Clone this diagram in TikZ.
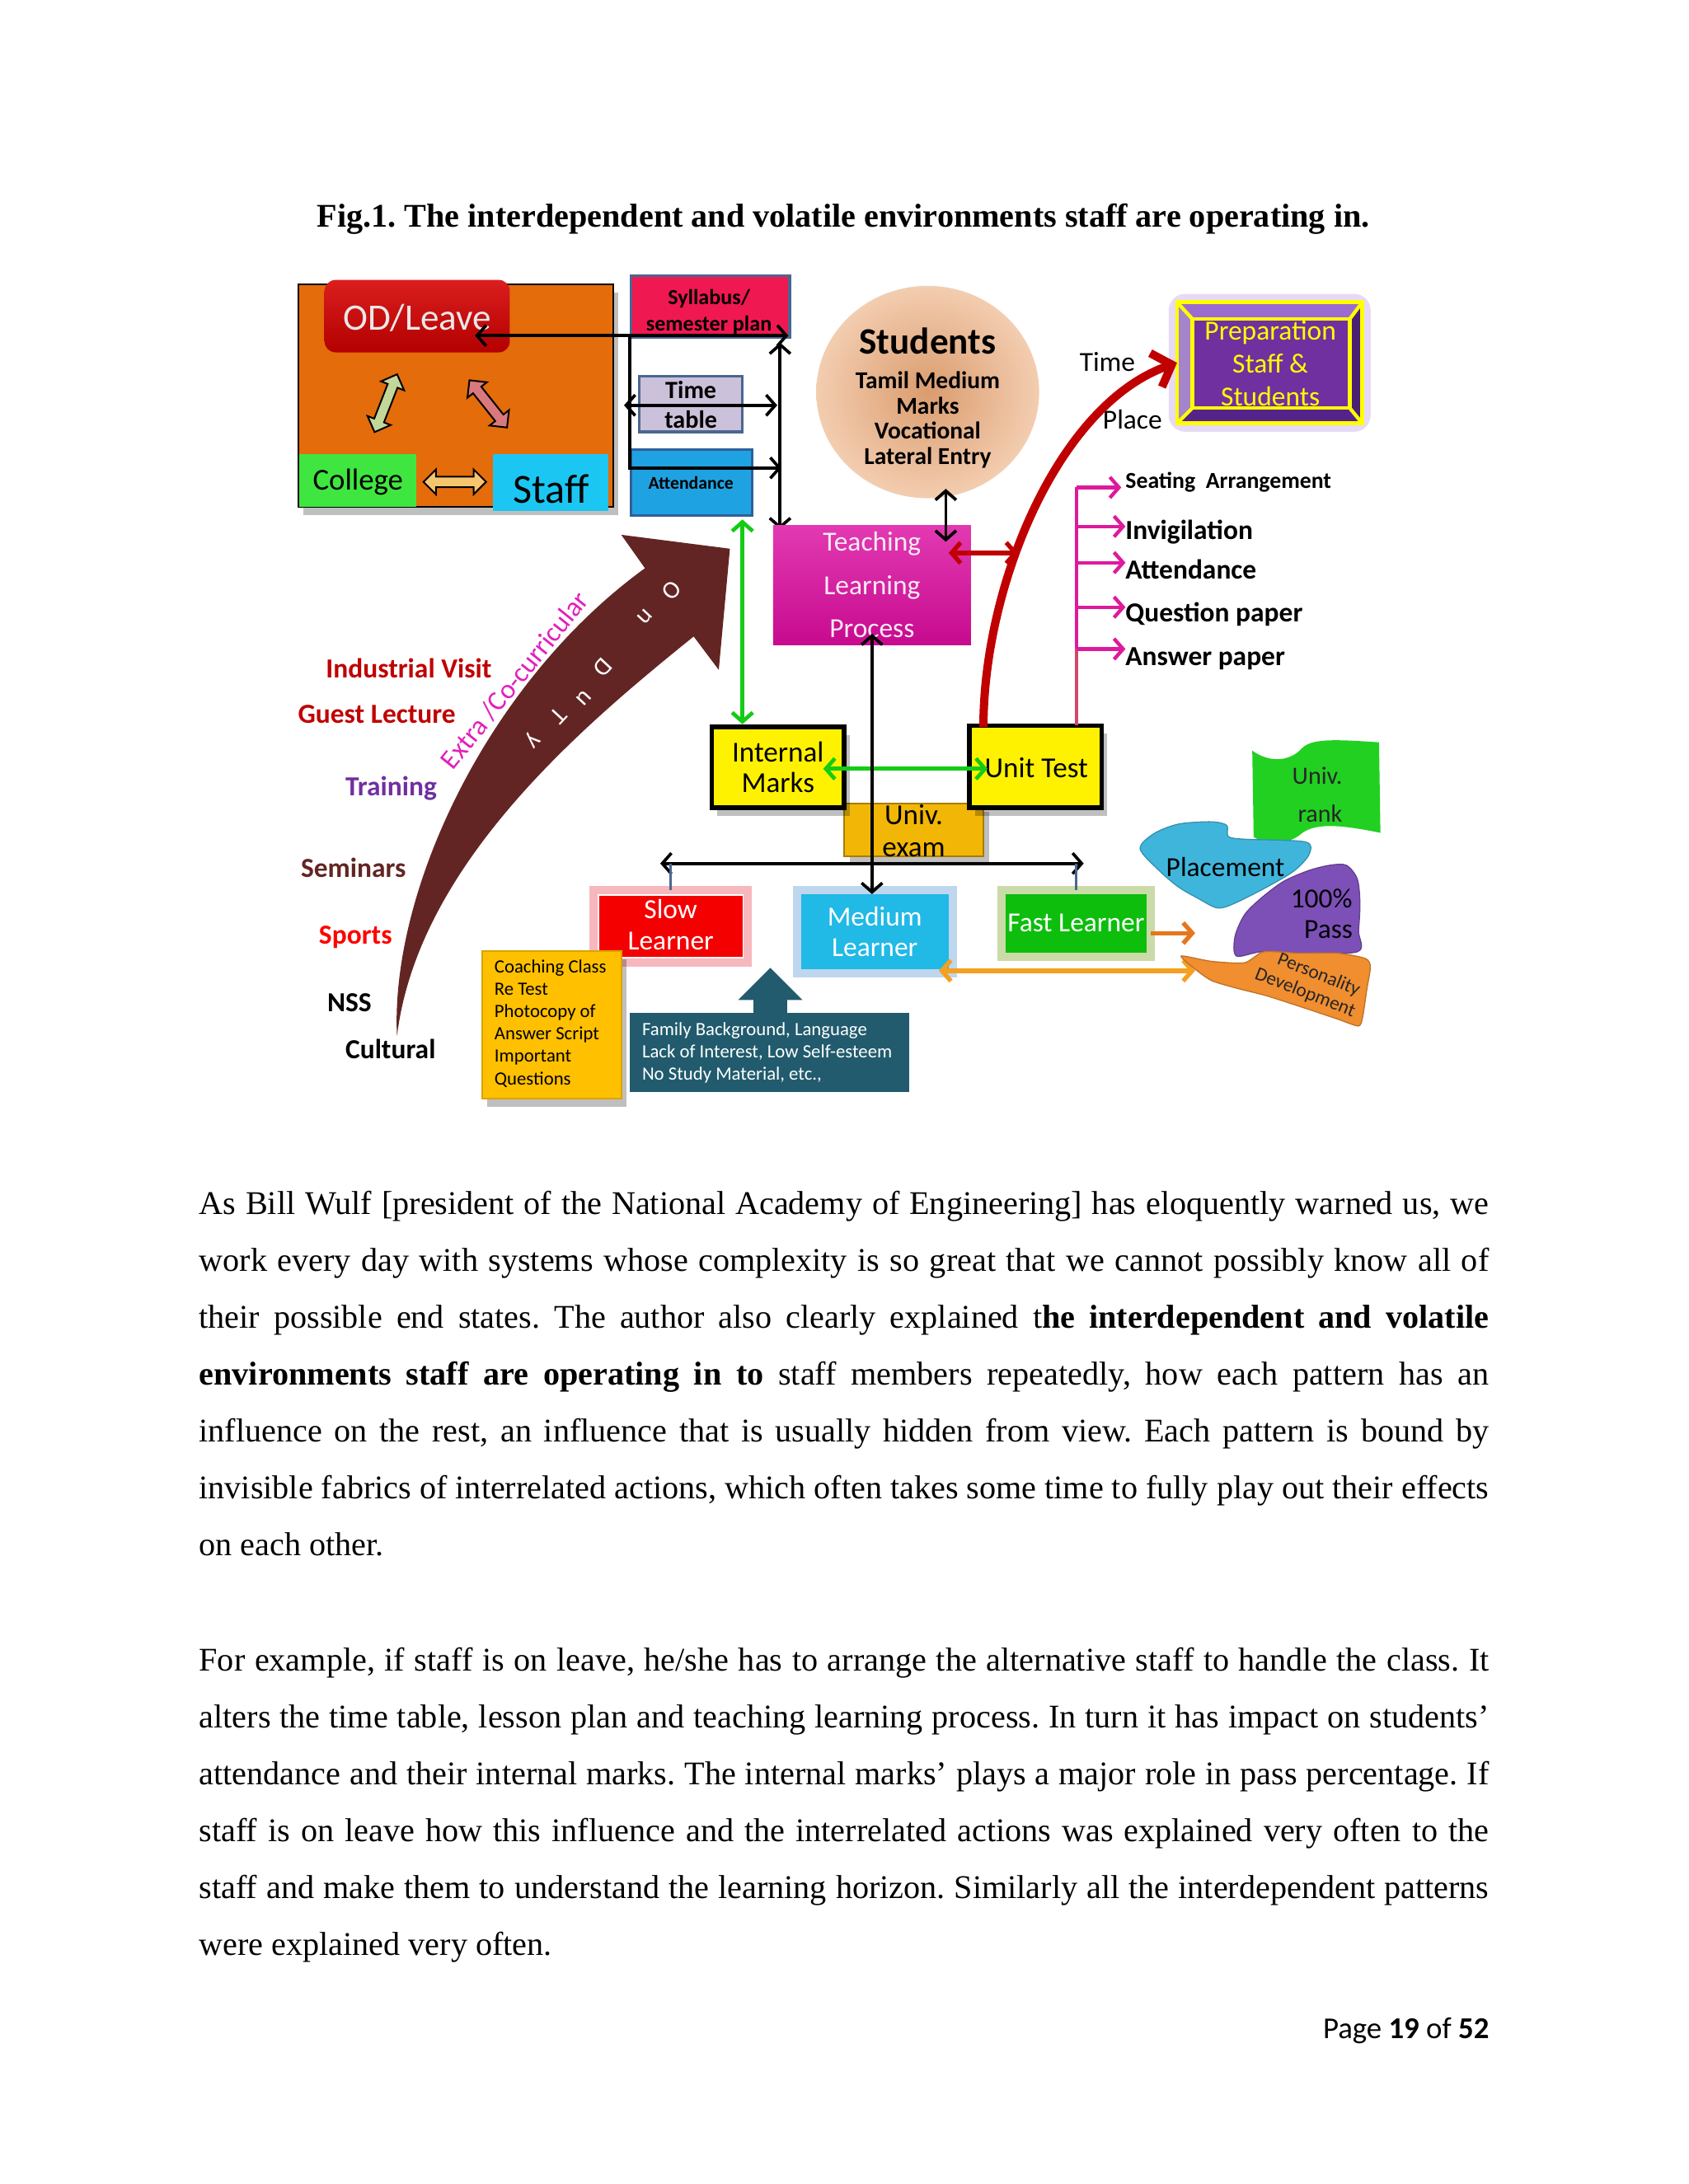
\documentclass[tikz,border=0pt]{standalone}
\usepackage{fontspec}
\setmainfont{Liberation Serif}
\newfontfamily\cfont{Carlito}
\usetikzlibrary{arrows.meta,shapes.arrows,shapes.geometric,shadows,fit}
\newcommand{\cfs}[2]{\cfont\fontsize{#1}{#2}\selectfont}
\newcommand{\cfb}[2]{\cfont\bfseries\fontsize{#1}{#2}\selectfont}
\newcommand{\bodyfont}{\fontsize{12}{14}\selectfont}
\newcommand{\jline}[1]{\makebox[467.6pt][s]{#1}}
\frenchspacing
\definecolor{orangebg}{HTML}{E46C0A}
\definecolor{odtop}{HTML}{DB1E1E}
\definecolor{odbot}{HTML}{B30000}
\definecolor{odtext}{HTML}{E8E8E8}
\definecolor{colgreen}{HTML}{3FE63F}
\definecolor{staffcyan}{HTML}{1CC6F2}
\definecolor{arrgreen}{HTML}{C4D79B}
\definecolor{arrpink}{HTML}{D9797E}
\definecolor{arryellow}{HTML}{F5C66E}
\definecolor{sylpink}{HTML}{F01850}
\definecolor{boxborder}{HTML}{4A6690}
\definecolor{lav}{HTML}{CCC1DA}
\definecolor{attblue}{HTML}{1FA2E1}
\definecolor{attborder}{HTML}{2F5F9A}
\definecolor{stuin}{HTML}{DA9C6E}
\definecolor{stuout}{HTML}{F3CDB0}
\definecolor{tlptop}{HTML}{E23AB2}
\definecolor{tlpbot}{HTML}{C70A8F}
\definecolor{tlptext}{HTML}{F8EAF4}
\definecolor{redc}{HTML}{C00000}
\definecolor{glowpurple}{HTML}{E6DAF6}
\definecolor{bevtop}{HTML}{9B6BCF}
\definecolor{bevleft}{HTML}{A584CC}
\definecolor{bevright}{HTML}{4A2173}
\definecolor{bevbot}{HTML}{55248A}
\definecolor{prepmid}{HTML}{7030A0}
\definecolor{yel}{HTML}{FFFF00}
\definecolor{mag}{HTML}{DE1A9C}
\definecolor{magred}{HTML}{D2486A}
\definecolor{arrowgreen}{HTML}{14CC14}
\definecolor{univexam}{HTML}{F2B706}
\definecolor{univborder}{HTML}{A87C00}
\definecolor{slowred}{HTML}{F50000}
\definecolor{slowglow}{HTML}{F6B8BC}
\definecolor{medcyan}{HTML}{21B9E6}
\definecolor{medglow}{HTML}{BED6EE}
\definecolor{fastgreen}{HTML}{0DBE0D}
\definecolor{fastglow}{HTML}{CADBA8}
\definecolor{orangeA}{HTML}{E5761E}
\definecolor{orangeB}{HTML}{F4A020}
\definecolor{gold}{HTML}{FFC000}
\definecolor{golddark}{HTML}{D9A300}
\definecolor{tealbox}{HTML}{215B6D}
\definecolor{brownA}{HTML}{632523}
\definecolor{extramag}{HTML}{E21FBD}
\definecolor{indred}{HTML}{C00000}
\definecolor{trainpurple}{HTML}{7030A0}
\definecolor{sportsred}{HTML}{FF0000}
\definecolor{flaggreen}{HTML}{22D022}
\definecolor{placeblue}{HTML}{40B5DC}
\definecolor{passpurple}{HTML}{7D50B7}
\definecolor{persorange}{HTML}{F08E30}
\tikzset{
  chev/.tip={Straight Barb[length=3.3pt,width=7.5pt]},
  bigchev/.tip={Straight Barb[length=6pt,width=13pt]},
  plain/.style={inner sep=0pt, outer sep=0pt},
  fitbox/.style={inner sep=0pt, outer sep=0pt},
  blkline/.style={line width=1.1pt, draw=black},
  grnline/.style={line width=1.4pt, draw=arrowgreen},
  magline/.style={line width=1.3pt, draw=mag},
  fatarrow/.style={double arrow, draw=black, line width=0.6pt, inner sep=1.6pt, double arrow head extend=2.6pt},
  softshadow/.style={drop shadow={shadow xshift=2pt, shadow yshift=-3pt, opacity=0.25, fill=black}},
  sidelabel/.style={plain, anchor=west, font=\cfb{10}{12}},
  examlabel/.style={plain, anchor=west, font=\cfb{10}{12}},
  bodytext/.style={plain, anchor=base west, font=\bodyfont},
  learnertxt/.style={plain, align=center, text=white, font=\cfs{10}{11.1}},
  glowframe/.style={fitbox, fill=white, line width=3pt},
  duty/.style={plain, text=white, font=\cfs{9}{10}, rotate=-133},
}
\begin{document}
\begin{tikzpicture}[x=0.505pt,y=-0.505pt]
\fill[white] (0,0) rectangle (1212,1568.2);
\useasboundingbox (0,0) rectangle (1212,1568.2);

% ---------- title
\node[plain, anchor=base, font=\bfseries\bodyfont] (title) at (605.5,163)
  {Fig.1. The interdependent and volatile environments staff are operating in.};

% ---------- environment box
\node[fitbox, fill=orangebg, draw=black, line width=0.6pt, softshadow, fit={(214,204)(440,364)}] (env) {};
\node[fitbox, rounded corners=4pt, top color=odtop, bottom color=odbot, fit={(233,201)(366,253)}] (od) {};
\node[plain, font=\cfs{13.5}{16}, text=odtext] (odtxt) at (299.5,228) {OD/Leave};
\node[fitbox, fill=colgreen, fit={(215,326)(299,364)}] (college) {};
\node[plain, anchor=base, font=\cfs{11}{13}] (collegetxt) at (257,352) {College};
\node[fitbox, fill=staffcyan, fit={(354,326)(437,367)}] (staff) {};
\node[plain, anchor=base, font=\cfs{15}{18}] (stafftxt) at (395.5,361) {Staff};
\node[fatarrow, fill=arrgreen, minimum height=22.5pt, rotate=68.7] (fa1) at (277,289.5) {};
\node[fatarrow, fill=arrpink, minimum height=21.9pt, rotate=-51.5] (fa2) at (350.5,290) {};
\node[fatarrow, fill=arryellow, minimum height=22.7pt] (fa3) at (326.5,346) {};

% ---------- syllabus / time table / attendance
\node[fitbox, fill=sylpink, draw=boxborder, line width=1pt, fit={(453,198)(567,242)}] (syl) {};
\node[plain, align=center, font=\cfb{7.8}{9.6}] (syltxt) at (509,224) {Syllabus/\\semester plan};
\node[fitbox, fill=lav, draw=boxborder, line width=1pt, fit={(459,270)(533,310)}] (tt) {};
\node[plain, align=center, font=\cfb{9}{10.6}] (tttxt) at (496,290.5) {Time\\table};
\node[fitbox, fill=attblue, draw=attborder, line width=1pt, fit={(453,323)(540,370)}] (att) {};
\node[plain, font=\cfb{6.5}{8}] (atttxt) at (496,347) {Attendance};

% black connectors of the left column
\coordinate (odR) at (341,241);
\coordinate (sylR) at (566,241);
\coordinate (colTop) at (452,241);
\coordinate (colBot) at (452,336);
\coordinate (attR) at (561,336);
\coordinate (ttL) at (448,291);
\coordinate (ttR) at (558,291);
\coordinate (vTop) at (560,246);
\coordinate (tlpTopL) at (560,380);
\draw[blkline, chev-chev] (odR) -- (sylR);
\draw[blkline, -chev] (colTop) -- (colBot) -- (attR);
\draw[blkline, chev-chev] (ttL) -- (ttR);
\draw[blkline, chev-chev] (vTop) -- (tlpTopL);

% ---------- students
\node[ellipse, inner color=stuin, outer color=stuout, minimum width=80.8pt, minimum height=77pt] (stu) at (666,281.5) {};
\node[plain, font=\cfb{13.5}{16}] (stutitle) at (666,245) {Students};
\node[plain, align=center, font=\cfb{8.8}{9.25}] (stulines) at (666,301.5) {Tamil Medium\\Marks\\Vocational\\Lateral Entry};

% ---------- teaching learning process
\node[fitbox, top color=tlptop, bottom color=tlpbot, fit={(555,377)(697,463)}] (tlp) {};
\node[plain, align=center, font=\cfs{10}{15.7}, text=tlptext] (tlptxt) at (626,420) {Teaching\\Learning\\Process};
\coordinate (stuBot) at (679,351);
\coordinate (tlpIn) at (679,389);
\draw[blkline, chev-chev] (stuBot) -- (tlpIn);

% ---------- preparation
\node[fitbox, fill=glowpurple, rounded corners=6pt, fit={(839,211)(984,310)}] (prepglow) {};
\fill[bevtop] (845,217) -- (978,217) -- (969,229) -- (856,229) -- cycle;
\fill[bevbot] (845,304) -- (978,304) -- (969,293) -- (856,293) -- cycle;
\fill[bevleft] (845,217) -- (856,229) -- (856,293) -- (845,304) -- cycle;
\fill[bevright] (978,217) -- (969,229) -- (969,293) -- (978,304) -- cycle;
\node[fitbox, fill=prepmid, draw=yel, line width=1.3pt, fit={(856,229)(969,293)}] (prepin) {};
\node[fitbox, draw=yel, line width=1.4pt, fit={(845,217)(978,304)}] (prep) {};
\draw[yel, line width=1.3pt] (prep.north west) -- (prepin.north west)
  (prep.north east) -- (prepin.north east) (prep.south west) -- (prepin.south west)
  (prep.south east) -- (prepin.south east);
\node[plain, align=center, font=\cfs{10}{12.1}, text=yel] (preptxt) at (912,261) {Preparation\\Staff \&\\Students};
\node[plain, font=\cfs{10}{12}] (timelbl) at (795,260) {Time};
\node[plain, font=\cfs{10}{12}] (placelbl) at (813,301) {Place};

% ---------- exam list
\node[plain, anchor=west, font=\cfb{8.3}{10}] (seat) at (808,346) {Seating\ \ Arrangement};
\node[examlabel] (invig) at (808,382) {Invigilation};
\node[examlabel] (attend) at (808,409) {Attendance};
\node[examlabel] (qp) at (808,441) {Question paper};
\node[examlabel] (ap) at (808,473) {Answer paper};

% ---------- univ exam, internal marks, unit test
\node[fitbox, fill=univexam, draw=univborder, line width=0.6pt, softshadow, fit={(606,577)(706,615)}] (ue) {};
\node[plain, align=center, font=\cfs{10.5}{11.6}] (uetxt) at (656,596.5) {Univ.\\exam};
\node[fitbox, fill=yellow, draw=black, line width=1.6pt, softshadow, fit={(511,522)(606,580)}] (im) {};
\node[plain, align=center, font=\cfs{10.5}{11.1}] (imtxt) at (558.5,551) {Internal\\Marks};
\node[fitbox, fill=yellow, draw=black, line width=1.6pt, softshadow, fit={(696,521)(791,580)}] (ut) {};
\node[plain, font=\cfs{10.5}{12}] (uttxt) at (744,551) {Unit Test};

\coordinate (b1) at (773,350);
\coordinate (b2) at (773,378);
\coordinate (b3) at (773,404);
\coordinate (b4) at (773,436);
\coordinate (b5) at (773,466);
\draw[magline] (b1) -- (b5);
\draw[line width=1.3pt, magred] (b5) -- (ut.north -| b5);
\draw[magline, -chev] (b1) -- ++(32,0);
\draw[magline, -chev] (b2) -- (b2 -| invig.west);
\draw[magline, -chev] (b3) -- (b3 -| attend.west);
\draw[magline, -chev] (b4) -- (b4 -| qp.west);
\draw[magline, -chev] (b5) -- (b5 -| ap.west);

% red curve and red link
\coordinate (utTop) at (706,522);
\draw[line width=3pt, redc, -bigchev] (utTop) .. controls (706,420) and (760,290) .. (prep.west);
\coordinate (tlpR) at (681,397);
\coordinate (curveL) at (731,397);
\draw[line width=1.6pt, redc, chev-chev] (tlpR) -- (curveL);

% green links
\coordinate (g1) at (533,373);
\coordinate (g2) at (533,520);
\coordinate (g3) at (591,552);
\coordinate (g4) at (709,552);
\draw[grnline, chev-chev] (g1) -- (g2);
\draw[grnline, chev-chev] (g3) -- (g4);

% ---------- learners
\node[glowframe, draw=slowglow, fit={(426,639)(537,691)}] (slg) {};
\node[fitbox, fill=slowred, fit={(430,643)(533,687)}] (sl) {};
\node[learnertxt] (sltxt) at (481.5,664) {Slow\\Learner};
\node[glowframe, draw=medglow, fit={(572,639)(684,699)}] (mlg) {};
\node[fitbox, fill=medcyan, fit={(575,642)(681,696)}] (ml) {};
\node[learnertxt] (mltxt) at (628,669) {Medium\\Learner};
\node[glowframe, draw=fastglow, fit={(719,639)(826,687)}] (flg) {};
\node[fitbox, fill=fastgreen, fit={(722,642)(823,684)}] (fl) {};
\node[learnertxt] (fltxt) at (772.5,663) {Fast Learner};

\coordinate (k1) at (626,455);
\draw[blkline, chev-chev] (k1) -- (ml.north -| k1);
\coordinate (hL) at (474,620);
\coordinate (hR) at (778,620);
\draw[blkline, chev-chev] (hL) -- (hR);
\draw[line width=0.8pt, boxborder] (sl.north |- hL) -- (slg.north);
\draw[line width=0.8pt, boxborder] (fl.north |- hR) -- (flg.north);

\coordinate (o1) at (826,670);
\coordinate (o1e) at (858,670);
\coordinate (o2) at (674,697);
\coordinate (o2e) at (858,697);
\draw[line width=1.6pt, orangeA, -chev] (o1) -- (o1e);
\draw[line width=1.6pt, orangeB, chev-chev] (o2) -- (o2e);

% ---------- coaching and causes
\node[fitbox, fill=gold, draw=golddark, line width=0.5pt, softshadow, fit={(346,683)(446,789)}] (cc) {};
\node[plain, anchor=west, align=left, font=\cfs{6.8}{8.08}] (cctxt) at (355,735)
  {Coaching Class\\Re Test\\Photocopy of\\Answer Script\\Important\\Questions};
\node[fitbox, fill=tealbox, fit={(452,727)(653,784)}] (fb) {};
\fill[tealbox] (541,728) -- (541,718) -- (530,718) -- (553,695) -- (576,718) -- (565,718) -- (565,728) -- cycle;
\node[plain, anchor=west, align=left, font=\cfs{6.8}{8.08}, text=white] (fbtxt) at (461,756)
  {Family Background, Language\\Lack of Interest, Low Self-esteem\\No Study Material, etc.,};

% ---------- brown "On Duty" arrow
\fill[brownA] (285,744) .. controls (280,640) and (350,490) .. (463,408) -- (446,384) -- (524,394)
  -- (516,481) -- (498,457) .. controls (420,520) and (300,620) .. (285,744) -- cycle;
\node[plain, rotate=51.2, text=extramag, font=\cfs{10}{12}] (extra) at (369.5,488.5) {Extra /Co-curricular};
\node[duty] (d1) at (482,424) {O};
\node[duty] (d2) at (463,443) {n};
\node[duty] (d3) at (433,479) {D};
\node[duty] (d4) at (419,501) {u};
\node[duty] (d5) at (401,514) {T};
\node[duty] (d6) at (382,531) {y};

\node[sidelabel, text=indred] (iv) at (234,480) {Industrial Visit};
\node[sidelabel, text=indred] (gl) at (214,513) {Guest Lecture};
\node[sidelabel, text=trainpurple] (tr) at (248,566) {Training};
\node[sidelabel, text=brownA] (sem) at (216,623) {Seminars};
\node[sidelabel, text=sportsred] (sp) at (229,673) {Sports};
\node[sidelabel] (nss) at (235,720) {NSS};
\node[sidelabel] (cul) at (248,753) {Cultural};

% ---------- outcomes
\fill[flaggreen] (899,539) .. controls (910,547) and (925,548) .. (935,537)
  .. controls (942,530) and (960,531) .. (990,533) -- (991,598)
  .. controls (962,592) and (945,591) .. (935,598)
  .. controls (925,607) and (910,607) .. (900,601) -- cycle;
\node[plain, font=\cfs{9}{11}, text=black!85] (urank1) at (945.7,557) {Univ.};
\node[plain, font=\cfs{9}{11}, text=black!85] (urank2) at (947.7,584) {rank};
\fill[passpurple, draw=passpurple!80!black, line width=0.4pt] plot[smooth cycle, tension=0.5] coordinates
  {(966.5,621.3) (974.4,631.2) (976.3,648.9) (975.3,668.6) (974.4,683.4) (929,684.4) (905.3,683.4)
   (887.6,686.4) (886.6,672.6) (893.5,656.8) (905.3,645) (921.1,633.1) (938.9,625.3) (954.6,621.3)};
\fill[placeblue, draw=placeblue!80!black, line width=0.4pt] plot[smooth cycle, tension=0.5] coordinates
  {(818.5,609.5) (828.4,598.6) (846.2,591.7) (869.8,590.1) (880.7,592.7) (881.7,600.6) (893.5,602.6)
   (936.9,604.5) (939.8,613.4) (929,625.3) (909.3,637) (885.6,648.9) (873.8,651.9) (860,645)
   (846.2,637) (832.4,625.3)};
\fill[persorange, draw=persorange!80!black, line width=0.4pt] plot[smooth cycle, tension=0.4] coordinates
  {(848.1,686.4) (869.8,690.3) (893.5,691.3) (907.3,683.4) (933,684.4) (960.5,684.4) (980.3,688.3)
   (983.8,694.3) (981.3,710) (978.3,729.8) (975.3,736.7) (960.5,731.8) (936.9,723.9) (909.3,715)
   (889.5,710) (869.8,704.1) (856,694.3)};
\node[plain, font=\cfs{10}{12}] (plc) at (879.7,622.3) {Placement};
\node[plain, font=\cfs{10}{12}] (pass1) at (948.7,645) {100\%};
\node[plain, font=\cfs{10}{12}] (pass2) at (953.7,667.6) {Pass};
\node[plain, font=\cfs{7}{8}, rotate=-21.4, text=black!85] (pers1) at (946.7,700) {Personality};
\node[plain, font=\cfs{7}{8}, rotate=-21.4, text=black!85] (pers2) at (936.9,713) {Development};

% ---------- body text
\node[bodytext] (p1a) at (143,872) {\jline{As Bill Wulf [president of the National Academy of Engineering] has eloquently warned us, we}};
\node[bodytext] (p1b) at (143,912.8) {\jline{work every day with systems whose complexity is so great that we cannot possibly know all of}};
\node[bodytext] (p1c) at (143,953.6) {\jline{their possible end states. The author also clearly explained t\textbf{he interdependent and volatile}}};
\node[bodytext] (p1d) at (143,994.4) {\jline{\textbf{environments staff are operating in to} staff members repeatedly, how each pattern has an}};
\node[bodytext] (p1e) at (143,1035.2) {\jline{influence on the rest, an influence that is usually hidden from view. Each pattern is bound by}};
\node[bodytext] (p1f) at (143,1076) {\jline{invisible fabrics of interrelated actions, which often takes some time to fully play out their effects}};
\node[bodytext] (p1g) at (143,1116.8) {on each other.};
\node[bodytext] (p2a) at (143,1200) {\jline{For example, if staff is on leave, he/she has to arrange the alternative staff to handle the class. It}};
\node[bodytext] (p2b) at (143,1240.8) {\jline{alters the time table, lesson plan and teaching learning process. In turn it has impact on students’}};
\node[bodytext] (p2c) at (143,1281.6) {\jline{attendance and their internal marks. The internal marks’ plays a major role in pass percentage. If}};
\node[bodytext] (p2d) at (143,1322.4) {\jline{staff is on leave how this influence and the interrelated actions was explained very often to the}};
\node[bodytext] (p2e) at (143,1363.2) {\jline{staff and make them to understand the learning horizon. Similarly all the interdependent patterns}};
\node[bodytext] (p2f) at (143,1404) {were explained very often.};
\node[plain, anchor=base east, font=\cfs{11}{13}] (page) at (1069,1464) {Page \textbf{19} of \textbf{52}};
\end{tikzpicture}
\end{document}
